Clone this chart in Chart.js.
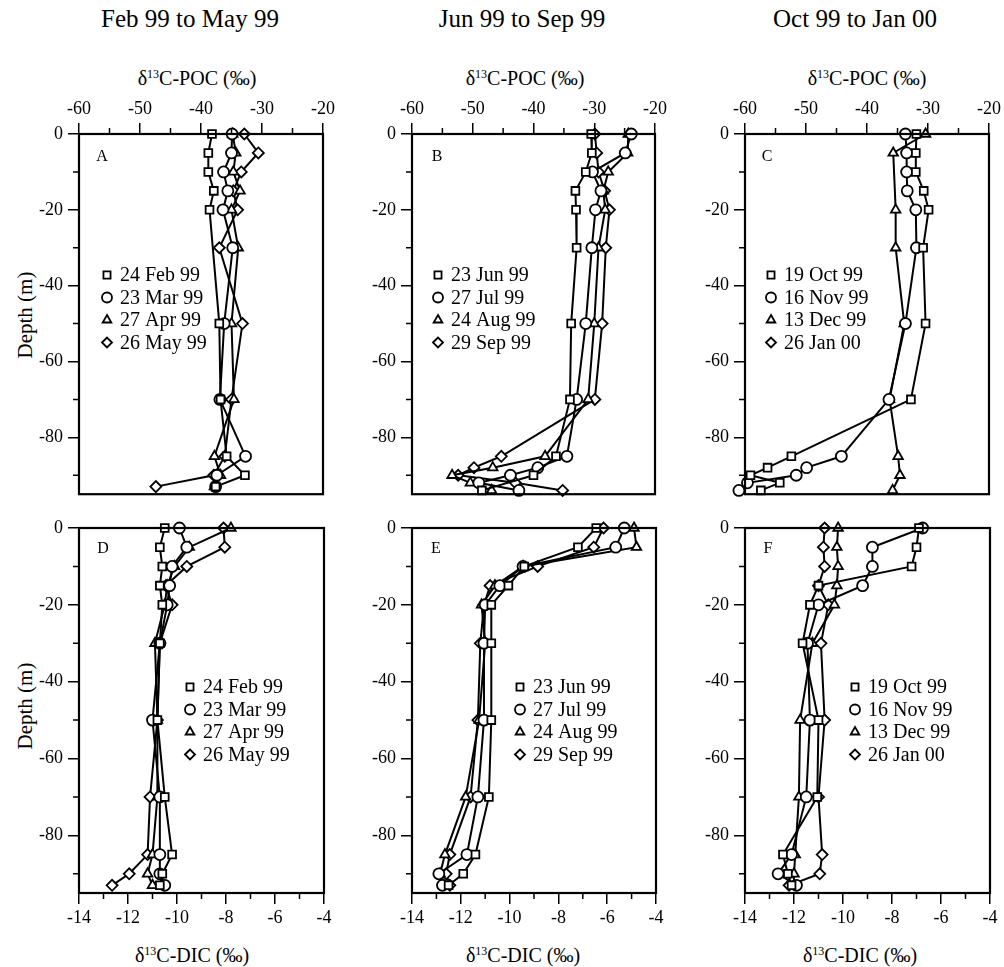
<!DOCTYPE html>
<html>
<head>
<meta charset="utf-8">
<script src="https://cdn.jsdelivr.net/npm/chart.js"></script>
<style>
  html, body { margin: 0; padding: 0; background: #fff; }
  body { width: 1004px; height: 967px; position: relative; overflow: hidden; font-family: "Liberation Serif", "Times New Roman", serif; color: #000; }
  canvas { position: absolute; }
  .lbl { position: absolute; white-space: nowrap; transform: translate(-50%, -50%); line-height: 1; }
  .lbl sup { font-size: 60%; vertical-align: 0.6em; line-height: 0; }
  .col { font-size: 25px; }
  .axt { font-size: 20px; }
  .depth { font-size: 21px; transform: translate(-50%, -50%) rotate(-90deg); }
</style>
</head>
<body>
<div class="lbl col" style="left:190px;top:18px">Feb 99 to May 99</div>
<div class="lbl col" style="left:522px;top:18px">Jun 99 to Sep 99</div>
<div class="lbl col" style="left:855px;top:18px">Oct 99 to Jan 00</div>

<div class="lbl axt" style="left:197px;top:78px">&delta;<sup>13</sup>C-POC (&permil;)</div>
<div class="lbl axt" style="left:525px;top:78px">&delta;<sup>13</sup>C-POC (&permil;)</div>
<div class="lbl axt" style="left:867px;top:78px">&delta;<sup>13</sup>C-POC (&permil;)</div>

<div class="lbl axt" style="left:192px;top:955px">&delta;<sup>13</sup>C-DIC (&permil;)</div>
<div class="lbl axt" style="left:523px;top:955px">&delta;<sup>13</sup>C-DIC (&permil;)</div>
<div class="lbl axt" style="left:860px;top:955px">&delta;<sup>13</sup>C-DIC (&permil;)</div>

<div class="lbl depth" style="left:25px;top:315px">Depth (m)</div>
<div class="lbl depth" style="left:25px;top:706px">Depth (m)</div>

<script>
// sampling depths (m)
const depthStd = [0, -5, -10, -15, -20, -30, -50, -70, -85, -90, -93];
const depthDeep = [0, -5, -10, -15, -20, -30, -50, -70, -85, -88, -90, -92, -94];

// tick values
const pocTicks = [-60, -50, -40, -30, -20];
const pocMinor = [-55, -45, -35, -25];
const dicTicks = [-14, -12, -10, -8, -6, -4];
const dicMinor = [-13, -11, -9, -7, -5];
const depthTicks = [0, -20, -40, -60, -80];
const depthMinor = [-10, -30, -50, -70, -90];

// legend labels
const datesFebMay = ['24 Feb 99', '23 Mar 99', '27 Apr 99', '26 May 99'];
const datesJunSep = ['23 Jun 99', '27 Jul 99', '24 Aug 99', '29 Sep 99'];
const datesOctJan = ['19 Oct 99', '16 Nov 99', '13 Dec 99', '26 Jan 00'];

// d13C-POC (permil), A: depthStd
const pocFeb99 = [-38.2, -38.8, -38.8, -37.9, -38.6, null, -37.0, -36.8, -35.8, -32.8, -37.6];
const pocMar99 = [-34.9, -35.0, -36.3, -35.6, -36.4, -34.8, -36.2, -36.9, -32.7, -37.4, -37.6];
const pocApr99 = [-34.8, -34.3, -34.7, -33.6, -35.0, -33.9, -35.0, -34.6, -37.8, -36.8, -37.8];
const pocMay99 = [-32.9, -30.6, -33.4, -34.7, -34.0, -37.0, -33.2, -35.0, -36.1, -37.9, -47.4];

// B: depthDeep
const pocJun99 = [-30.5, -30.4, -31.4, -33.1, -33.0, -32.9, -33.8, -34.0, -36.3, null, -40.0, null, -48.5];
const pocJul99 = [-23.9, -24.9, -30.3, -28.9, -29.8, -30.4, -31.4, -32.9, -34.5, -39.3, -43.8, -49.0, -42.4];
const pocAug99 = [-24.4, -24.5, -27.7, -28.5, -28.2, -29.3, -30.0, -31.0, -38.1, -46.7, -53.4, -50.4, -46.9];
const pocSep99 = [-29.9, -29.6, -29.3, -28.3, -27.5, -28.1, -28.7, -29.9, -45.3, -49.8, -52.4, -43.0, -35.2];

// C: depthDeep
const pocOct99 = [-31.9, -32.0, -32.0, -30.7, -29.9, -30.8, -30.4, -32.8, -52.4, -56.3, -59.1, -54.3, -57.4];
const pocNov99 = [-33.7, -33.5, -33.5, -33.4, -32.0, -31.9, -33.7, -36.4, -44.2, -49.9, -51.6, -59.6, -61.0];
const pocDec99 = [-30.4, -35.7, null, null, -35.3, -35.3, -33.9, -36.3, -34.9, null, -34.6, null, -35.8];
const pocJan00 = [null, null, null, null, null, null, null, null, null, null, null, null, null];

// d13C-DIC (permil), all depthStd
const dicFeb99 = [-10.5, -10.7, -10.6, -10.7, -10.6, -10.7, -10.8, -10.5, -10.2, -10.6, -10.7];
const dicMar99 = [-9.9, -9.6, -10.2, -10.3, -10.4, -10.7, -11.0, -10.7, -10.7, -10.7, -10.5];
const dicApr99 = [-7.8, -9.5, -10.1, -10.4, -10.5, -10.9, -10.8, -10.8, -11.0, -11.2, -11.0];
const dicMay99 = [-8.1, -8.05, -9.6, -10.45, -10.2, -10.7, -10.8, -11.1, -11.2, -11.95, -12.65];

const dicJun99 = [-6.45, -7.2, -9.4, -10.05, -10.75, -10.75, -10.75, -10.85, -11.4, -11.9, -12.5];
const dicJul99 = [-5.3, -5.65, -9.45, -10.4, -11.0, -11.05, -11.05, -11.3, -11.75, -12.9, -12.75];
const dicAug99 = [-4.9, -4.8, -9.45, -10.6, -11.15, -11.0, -11.25, -11.8, -12.65, -12.85, -12.7];
const dicSep99 = [-6.15, -6.55, -8.85, -10.8, -11.05, -11.2, -11.3, -11.6, -12.45, -12.6, -12.45];

const dicOct99 = [-6.9, -7.0, -7.2, -11.0, -11.35, -11.65, -11.0, -11.05, -12.45, -12.25, -12.1];
const dicNov99 = [-6.75, -8.8, -8.8, -9.2, -11.0, -11.45, -11.35, -11.5, -12.1, -12.65, -11.9];
const dicDec99 = [-10.2, -10.25, -10.2, -10.25, -10.35, -11.25, -11.75, -11.8, -11.95, -12.0, -12.0];
const dicJan00 = [-10.75, -10.8, -10.75, -11.0, -10.6, -10.9, -10.75, -11.0, -10.85, -10.95, -12.2];

const markers = ['rect', 'circle', 'triangle', 'rectRot'];
const serif = "'Liberation Serif', 'Times New Roman', serif";

// page geometry (px)
const colBox = [[79, 324], [412, 656], [745, 990]];
const colCanvas = [[0, 338], [338, 670], [670, 1004]];
const rowBox = [[134, 497], [528, 893]];
const rowCanvas = [[88, 510], [510, 940]];
const AXIS_W = 50, AXIS_H = 40;

const panels = [
  { letter: 'A', row: 0, col: 0, depth: depthStd, series: [pocFeb99, pocMar99, pocApr99, pocMay99], dates: datesFebMay, legend: [107, 275], tag: [102, 157] },
  { letter: 'B', row: 0, col: 1, depth: depthDeep, series: [pocJun99, pocJul99, pocAug99, pocSep99], dates: datesJunSep, legend: [438, 275], tag: [437, 157] },
  { letter: 'C', row: 0, col: 2, depth: depthDeep, series: [pocOct99, pocNov99, pocDec99, pocJan00], dates: datesOctJan, legend: [771, 275], tag: [767, 157] },
  { letter: 'D', row: 1, col: 0, depth: depthStd, series: [dicFeb99, dicMar99, dicApr99, dicMay99], dates: datesFebMay, legend: [190, 687], tag: [103, 549] },
  { letter: 'E', row: 1, col: 1, depth: depthStd, series: [dicJun99, dicJul99, dicAug99, dicSep99], dates: datesJunSep, legend: [520, 687], tag: [436, 549] },
  { letter: 'F', row: 1, col: 2, depth: depthStd, series: [dicOct99, dicNov99, dicDec99, dicJan00], dates: datesOctJan, legend: [855, 687], tag: [768, 549] }
];

function drawMarker(ctx, style, x, y, r) {
  if (Chart.helpers && Chart.helpers.drawPoint) {
    Chart.helpers.drawPoint(ctx, { pointStyle: style, radius: r, rotation: 0, borderWidth: ctx.lineWidth }, x, y);
    return;
  }
  ctx.beginPath();
  ctx.arc(x, y, r, 0, Math.PI * 2);
  ctx.fill();
  ctx.stroke();
}

// frame, minor ticks, panel letter and legend
const decorPlugin = {
  id: 'decor',
  afterDraw(chart, args, o) {
    const ctx = chart.ctx;
    const a = chart.chartArea;
    const xs = chart.scales.x, ys = chart.scales.y;
    ctx.save();
    ctx.strokeStyle = '#000';
    ctx.lineWidth = 2.2;
    ctx.strokeRect(a.left, a.top, a.right - a.left, a.bottom - a.top);

    ctx.lineWidth = 1.5;
    ctx.beginPath();
    o.xMinor.forEach(v => {
      const px = xs.getPixelForValue(v);
      if (o.top) { ctx.moveTo(px, a.top); ctx.lineTo(px, a.top - 6); }
      else { ctx.moveTo(px, a.bottom); ctx.lineTo(px, a.bottom + 6); }
    });
    depthMinor.forEach(v => {
      const py = ys.getPixelForValue(v);
      ctx.moveTo(a.left, py); ctx.lineTo(a.left - 6, py);
    });
    ctx.stroke();

    ctx.fillStyle = '#000';
    ctx.font = '16px ' + serif;
    ctx.textAlign = 'center';
    ctx.textBaseline = 'middle';
    ctx.fillText(o.letter, o.tag[0] - o.ox, o.tag[1] - o.oy);

    ctx.font = '20px ' + serif;
    ctx.textAlign = 'left';
    o.dates.forEach((d, i) => {
      const x = o.legend[0] - o.ox, y = o.legend[1] - o.oy + i * 22.5;
      ctx.fillStyle = '#fff';
      ctx.strokeStyle = '#000';
      ctx.lineWidth = 1.8;
      drawMarker(ctx, markers[i], x, y, 5);
      ctx.fillStyle = '#000';
      ctx.fillText(d, x + 13, y + 1);
    });
    ctx.restore();
  }
};

const charts = [];

panels.forEach(p => {
  const [cl, cr] = colCanvas[p.col];
  const [ct, cb] = rowCanvas[p.row];
  const [bl, br] = colBox[p.col];
  const [bt, bb] = rowBox[p.row];
  const top = p.row === 0;

  const cv = document.createElement('canvas');
  cv.width = cr - cl;
  cv.height = cb - ct;
  cv.style.left = cl + 'px';
  cv.style.top = ct + 'px';
  document.body.appendChild(cv);

  const datasets = p.series.map((vals, i) => ({
    label: p.dates[i],
    data: p.depth.map((d, k) => ({ x: vals[k], y: d })).filter(pt => pt.x !== null),
    showLine: true,
    borderColor: '#000',
    borderWidth: 2,
    pointStyle: markers[i],
    pointRadius: 5.5,
    pointBackgroundColor: '#fff',
    pointBorderColor: '#000',
    pointBorderWidth: 1.8,
    clip: false
  }));

  const tickFont = { family: serif, size: 18 };
  const gridOpts = { display: true, drawOnChartArea: false, drawTicks: true, tickLength: 11, color: '#000', lineWidth: 1.5 };
  const xTicks = top ? pocTicks : dicTicks;

  charts.push(new Chart(cv.getContext('2d'), {
    type: 'scatter',
    data: { datasets: datasets },
    options: {
      responsive: false,
      animation: false,
      devicePixelRatio: 1,
      events: [],
      layout: {
        padding: {
          left: bl - cl - AXIS_W,
          right: cr - br,
          top: top ? bt - ct - AXIS_H : bt - ct,
          bottom: top ? cb - bb : cb - bb - AXIS_H
        }
      },
      scales: {
        x: {
          type: 'linear',
          position: top ? 'top' : 'bottom',
          min: xTicks[0],
          max: xTicks[xTicks.length - 1],
          afterBuildTicks: s => { s.ticks = xTicks.map(v => ({ value: v })); },
          afterFit: s => { s.height = AXIS_H; },
          grid: gridOpts,
          border: { display: false },
          ticks: { color: '#000', font: tickFont, padding: 3, maxRotation: 0, autoSkip: false, callback: v => String(v) }
        },
        y: {
          type: 'linear',
          min: -95,
          max: 0,
          afterBuildTicks: s => { s.ticks = depthTicks.map(v => ({ value: v })); },
          afterFit: s => { s.width = AXIS_W; },
          grid: gridOpts,
          border: { display: false },
          ticks: { color: '#000', font: tickFont, padding: 5, autoSkip: false, callback: v => String(v) }
        }
      },
      plugins: {
        legend: { display: false },
        tooltip: { enabled: false },
        decor: {
          top: top,
          xMinor: top ? pocMinor : dicMinor,
          letter: p.letter,
          tag: p.tag,
          legend: p.legend,
          dates: p.dates,
          ox: cl,
          oy: ct
        }
      }
    },
    plugins: [decorPlugin]
  }));
});

// redraw once the serif face is ready for canvas text
if (document.fonts) {
  Promise.all([document.fonts.load("18px 'Liberation Serif'"), document.fonts.ready])
    .then(() => charts.forEach(c => c.update('none')));
}
</script>
</body>
</html>
